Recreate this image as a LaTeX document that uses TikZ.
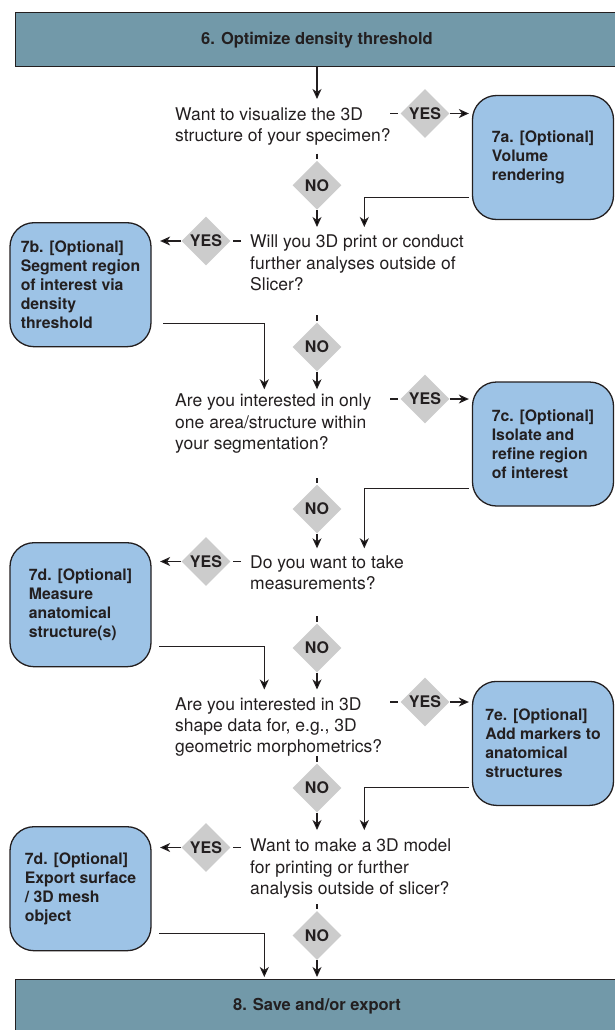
\documentclass[tikz,border=0pt]{standalone}
\usepackage{fontspec}
\setmainfont{TeX Gyre Heros}
\usetikzlibrary{shapes.geometric,arrows.meta}
\pgfdeclarelayer{bg}
\pgfsetlayers{bg,main}
\definecolor{bannerblue}{HTML}{7299A9}
\definecolor{stepblue}{HTML}{9DC3E6}
\definecolor{choicegray}{HTML}{CCCCCC}
\definecolor{ink}{HTML}{231F20}
\tikzset{
    banner/.style={draw=ink, line width=1pt, fill=bannerblue, minimum width=604pt, minimum height=54pt, inner sep=0pt, font=\bfseries\fontsize{16.5}{20}\selectfont},
    optbox/.style={draw=ink, line width=1.3pt, fill=stepblue, rounded corners=24pt, minimum width=141pt, minimum height=124pt, inner sep=0pt, align=left, font=\bfseries\fontsize{15.8}{19}\selectfont},
    question/.style={anchor=base west, inner sep=0pt, align=left, font=\fontsize{17.5}{21.3}\selectfont},
    choice/.style={diamond, fill=choicegray, minimum size=49pt, inner sep=0pt, font=\bfseries\fontsize{16}{18}\selectfont},
    flow/.style={draw=ink, line width=1.2pt},
    >={Stealth[length=10pt,width=9pt,inset=3pt]}
}
\begin{document}
\begin{tikzpicture}[x=1pt, y=-1pt, color=ink]
    \useasboundingbox (0,0) rectangle (614,1030);

    \node (s6) [banner] at (317, 39.8) {6. Optimize density threshold};
    \node (s8) [banner] at (317, 1006) {8. Save and/or export};

    \node (q1) [question] at (175, 141.3) {Want to visualize the 3D\\structure of your specimen?};
    \node (q2) [question] at (250, 290.3) {Will you 3D print or conduct\\further analyses outside of\\Slicer?};
    \node (q3) [question] at (175, 449.3) {Are you interested in only\\one area/structure within\\your segmentation?};
    \node (q4) [question] at (250, 589.6) {Do you want to take\\measurements?};
    \node (q5) [question] at (175, 752.6) {Are you interested in 3D\\shape data for, e.g., 3D\\geometric morphometrics?};
    \node (q6) [question] at (250, 894.3) {Want to make a 3D model\\for printing or further\\analysis outside of slicer?};

    \node (o7a) [optbox] at (543, 157.5) {7a. [Optional]\\Volume\\rendering};
    \node (o7b) [optbox] at (80.5, 284.7) {7b. [Optional]\\Segment region\\of interest via\\density\\threshold};
    \node (o7c) [optbox] at (543, 444) {7c. [Optional]\\Isolate and\\refine region\\of interest};
    \node (o7d) [optbox] at (80.5, 604.7) {7d. [Optional]\\Measure\\anatomical\\structure(s)};
    \node (o7e) [optbox] at (543, 743.4) {7e. [Optional]\\Add markers to\\anatomical\\structures};
    \node (o7f) [optbox] at (80.5, 888.7) {7d. [Optional]\\Export surface\\/ 3D mesh\\object};

    \node (y1) [choice] at (425, 113.5) {YES};
    \node (y2) [choice] at (206, 241) {YES};
    \node (y3) [choice] at (425, 399) {YES};
    \node (y4) [choice] at (206, 561.5) {YES};
    \node (y5) [choice] at (425, 702) {YES};
    \node (y6) [choice] at (206, 847.5) {YES};

    \node (n1) [choice] at (317, 185.3) {NO};
    \node (n2) [choice] at (317, 347) {NO};
    \node (n3) [choice] at (317, 509) {NO};
    \node (n4) [choice] at (317, 648) {NO};
    \node (n5) [choice] at (317, 788) {NO};
    \node (n6) [choice] at (317, 935.5) {NO};

    \coordinate (d1) at (390, 113.5);
    \coordinate (d2) at (241, 241);
    \coordinate (d3) at (390, 399);
    \coordinate (d4) at (241, 561.5);
    \coordinate (d5) at (390, 702);
    \coordinate (d6) at (241, 847.5);

    \coordinate (k1) at (317, 153.5);
    \coordinate (k2) at (317, 315);
    \coordinate (k3) at (317, 478);
    \coordinate (k4) at (317, 616);
    \coordinate (k5) at (317, 756);
    \coordinate (k6) at (317, 904);

    \coordinate (t1) at (317, 99);
    \coordinate (t2) at (317, 227);
    \coordinate (t3) at (317, 389.3);
    \coordinate (t4) at (317, 548.3);
    \coordinate (t5) at (317, 689.5);
    \coordinate (t6) at (317, 830);
    \coordinate (t7) at (317, 977);

    \coordinate (r7a) at (469, 197.3);
    \coordinate (e7a) at (364.3, 227);
    \coordinate (r7b) at (163.3, 323.3);
    \coordinate (e7b) at (264.3, 389.3);
    \coordinate (r7c) at (469, 488.8);
    \coordinate (e7c) at (364.3, 548.3);
    \coordinate (r7d) at (159.3, 646.7);
    \coordinate (e7d) at (264.3, 689.5);
    \coordinate (r7e) at (469, 787.3);
    \coordinate (e7e) at (364.3, 830);
    \coordinate (r7f) at (159.3, 933.3);
    \coordinate (e7f) at (264.3, 977);

    \begin{pgfonlayer}{bg}
        \draw[flow, ->] (s6) -- (t1);

        \draw[flow, shorten >=2.5pt] (d1) -- (y1);
        \draw[flow, ->, shorten >=3pt] (y1) -- (y1 -| o7a.west);
        \draw[flow, shorten >=1.5pt] (k1) -- (n1);
        \draw[flow, ->] (n1) -- (t2);
        \draw[flow, ->] (r7a) -| (e7a);

        \draw[flow, shorten >=2.5pt] (d2) -- (y2);
        \draw[flow, ->, shorten >=8.5pt] (y2) -- (y2 -| o7b.east);
        \draw[flow, shorten >=1.5pt] (k2) -- (n2);
        \draw[flow, ->] (n2) -- (t3);
        \draw[flow, ->] (r7b) -| (e7b);

        \draw[flow, shorten >=2.5pt] (d3) -- (y3);
        \draw[flow, ->, shorten >=3pt] (y3) -- (y3 -| o7c.west);
        \draw[flow, shorten >=1.5pt] (k3) -- (n3);
        \draw[flow, ->] (n3) -- (t4);
        \draw[flow, ->] (r7c) -| (e7c);

        \draw[flow, shorten >=2.5pt] (d4) -- (y4);
        \draw[flow, ->, shorten >=8.5pt] (y4) -- (y4 -| o7d.east);
        \draw[flow, shorten >=1.5pt] (k4) -- (n4);
        \draw[flow, ->] (n4) -- (t5);
        \draw[flow, ->] (r7d) -| (e7d);

        \draw[flow, shorten >=2.5pt] (d5) -- (y5);
        \draw[flow, ->, shorten >=3pt] (y5) -- (y5 -| o7e.west);
        \draw[flow, shorten >=1.5pt] (k5) -- (n5);
        \draw[flow, ->] (n5) -- (t6);
        \draw[flow, ->] (r7e) -| (e7e);

        \draw[flow, shorten >=2.5pt] (d6) -- (y6);
        \draw[flow, ->, shorten >=8.5pt] (y6) -- (y6 -| o7f.east);
        \draw[flow, shorten >=1.5pt] (k6) -- (n6);
        \draw[flow, ->] (n6) -- (t7);
        \draw[flow, ->] (r7f) -| (e7f);
    \end{pgfonlayer}
\end{tikzpicture}
\end{document}
